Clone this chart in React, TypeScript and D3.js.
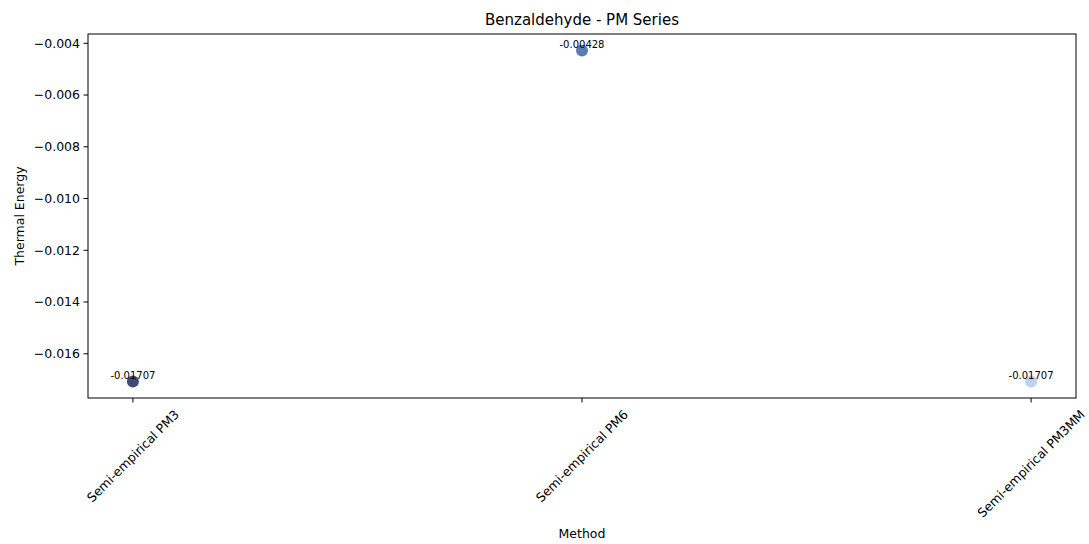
import React, { useEffect, useRef } from "react";
import * as d3 from "d3";

const methods = ["Semi-empirical PM3", "Semi-empirical PM6", "Semi-empirical PM3MM"];
const values = [-0.01707, -0.00428, -0.01707];
const pointColors = ["#2b3466", "#4e6ea9", "#b6cde9"];
const yTicks = [-0.016, -0.014, -0.012, -0.01, -0.008, -0.006, -0.004];

const W = 1089;
const H = 544;
const M = { left: 88, right: 1076, top: 34, bottom: 398 };
const FONT = "DejaVu Sans, sans-serif";

export default function App() {
  const ref = useRef<SVGSVGElement>(null);
  useEffect(() => {
    const svg = d3.select(ref.current);
    svg.selectAll("*").remove();
    const x = d3.scaleLinear().domain([-0.1, 2.1]).range([M.left, M.right]);
    const ymin = d3.min(values)!;
    const ymax = d3.max(values)!;
    const pad = (ymax - ymin) * 0.05;
    const y = d3.scaleLinear().domain([ymin - pad, ymax + pad]).range([M.bottom, M.top]);

    svg.append("rect").attr("width", W).attr("height", H).attr("fill", "white");

    // y axis ticks
    const fmt = (v: number) => d3.format(".3f")(v).replace("-", "\u2212");
    const yg = svg.append("g");
    yTicks.forEach((t) => {
      const yy = y(t);
      yg.append("line").attr("x1", M.left - 4.5).attr("x2", M.left).attr("y1", yy).attr("y2", yy)
        .attr("stroke", "#000").attr("stroke-width", 1);
      yg.append("text").attr("x", M.left - 8).attr("y", yy).attr("dy", "0.35em")
        .attr("text-anchor", "end").attr("font-family", FONT).attr("font-size", 12.5)
        .attr("fill", "#000").text(fmt(t));
    });

    // x ticks and rotated labels
    const xg = svg.append("g");
    methods.forEach((m, i) => {
      const xx = x(i);
      xg.append("line").attr("x1", xx).attr("x2", xx).attr("y1", M.bottom).attr("y2", M.bottom + 4.5)
        .attr("stroke", "#000").attr("stroke-width", 1);
      const t = xg.append("text").attr("font-family", FONT).attr("font-size", 12.5)
        .attr("fill", "#000").attr("text-anchor", "middle").attr("dominant-baseline", "central").text(m);
      const w = (t.node() as SVGTextElement).getComputedTextLength();
      const h = 14.5;
      const bh = (w + h) * Math.SQRT1_2;
      const cy = M.bottom + 4.5 + 4.5 + bh / 2;
      t.attr("transform", `translate(${xx},${cy}) rotate(-45)`);
    });

    // frame
    svg.append("rect").attr("x", M.left).attr("y", M.top).attr("width", M.right - M.left)
      .attr("height", M.bottom - M.top).attr("fill", "none").attr("stroke", "#000").attr("stroke-width", 1);

    // points
    values.forEach((v, i) => {
      svg.append("circle").attr("cx", x(i)).attr("cy", y(v)).attr("r", 6)
        .attr("fill", pointColors[i]).attr("fill-opacity", 0.9);
      svg.append("text").attr("x", x(i)).attr("y", y(v) - 2.5).attr("text-anchor", "middle")
        .attr("font-family", FONT).attr("font-size", 10).attr("fill", "#000")
        .text(v.toFixed(5));
    });

    // titles
    svg.append("text").attr("x", (M.left + M.right) / 2).attr("y", 25).attr("text-anchor", "middle")
      .attr("font-family", FONT).attr("font-size", 15).attr("fill", "#000").text("Benzaldehyde - PM Series");
    svg.append("text").attr("x", (M.left + M.right) / 2).attr("y", 538).attr("text-anchor", "middle")
      .attr("font-family", FONT).attr("font-size", 12.5).attr("fill", "#000").text("Method");
    svg.append("text").attr("transform", `translate(24,${(M.top + M.bottom) / 2}) rotate(-90)`)
      .attr("text-anchor", "middle").attr("font-family", FONT).attr("font-size", 12.5)
      .attr("fill", "#000").text("Thermal Energy");
  }, []);
  return (
    <svg ref={ref} width={W} height={H} style={{ position: "absolute", left: 0, top: 0 }} />
  );
}
